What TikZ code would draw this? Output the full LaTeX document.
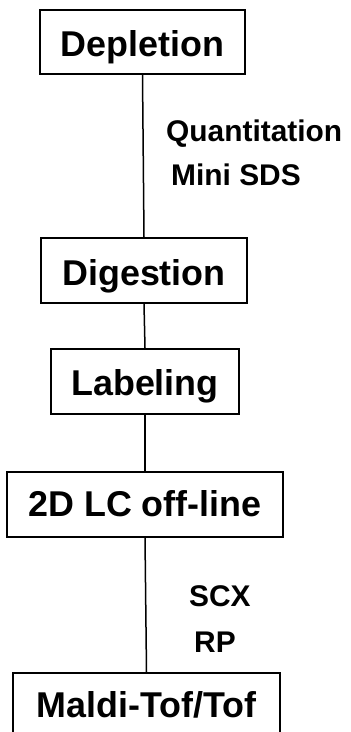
\documentclass[tikz,border=0pt]{standalone}
\usepackage{fontspec}
\setmainfont{Liberation Sans}
\begin{document}
\begin{tikzpicture}[x=1bp,y=-1bp,
  stepbox/.style={draw=black,line width=2bp,fill=white,inner sep=0pt,
    font=\fontsize{36}{40}\selectfont\bfseries,text depth=4bp},
  lbl/.style={anchor=base west,inner sep=0pt,font=\fontsize{30}{34}\selectfont\bfseries},
  conn/.style={line width=1.5bp,draw=black}]
\clip (0,0) rectangle (350,732);
\fill[white] (0,0) rectangle (350,732);
\node[stepbox,minimum width=205bp,minimum height=64bp,text height=34bp] (dep) at (142.5,42) {Depletion};
\node[stepbox,minimum width=206bp,minimum height=65bp,text height=33bp] (dig) at (144,270.5) {Digestion};
\node[stepbox,minimum width=188bp,minimum height=65bp,text height=31bp] (lab) at (145,381.5) {Labeling};
\node[stepbox,minimum width=276bp,minimum height=65bp,text height=28bp] (lc) at (145,504.5) {2D LC off-line};
\node[stepbox,minimum width=267bp,minimum height=65bp,text height=27bp] (mal) at (146.5,705.5) {Maldi-Tof/Tof};
\draw[conn] (dep.south) -- (dig.north);
\draw[conn] (dig.south) -- (lab.north);
\draw[conn] (lab.south) -- (lc.north);
\draw[conn] (lc.south) -- (mal.north);
\node[lbl] (q) at (166,142) {Quantitation};
\node[lbl] (m) at (171,185) {Mini SDS};
\node[lbl] (s) at (189,606) {SCX};
\node[lbl] (r) at (194,652) {RP};
\end{tikzpicture}
\end{document}
